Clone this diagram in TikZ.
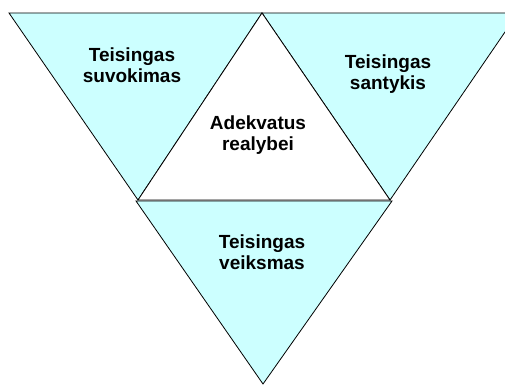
\documentclass[tikz,border=0pt]{standalone}
\usepackage{fontspec}
\setmainfont{Liberation Sans}
\definecolor{lightcyan}{RGB}{204,255,255}
\tikzset{
  face/.style={draw, line width=0.8pt, line join=miter, fill=lightcyan},
  label/.style={align=center, font=\fontsize{19}{21}\selectfont\bfseries}
}

\begin{document}
\begin{tikzpicture}[x=1pt, y=-1pt]

\useasboundingbox (0,0) rectangle (505,385);
\clip (0,0) rectangle (505,385);

% left
\draw[face] (9,13) -- (262,13) -- (138,200) -- cycle;

% right
\draw[face] (262,13) -- (518,13) -- (390,200) -- cycle;

% bottom
\draw[face] (136,201) -- (392,201) -- (263,384) -- cycle;

% middle
\draw[face, fill=white] (262,13) -- (390,200) -- (138,200) -- cycle;

\node[label] (suvokimas) at (132,65) {Teisingas\\suvokimas};
\node[label] (santykis) at (388,74) {Teisingas\\santykis};
\node[label] (realybei) at (258,135) {Adekvatus\\realybei};
\node[label] (veiksmas) at (262,252) {Teisingas\\veiksmas};

\end{tikzpicture}
\end{document}
